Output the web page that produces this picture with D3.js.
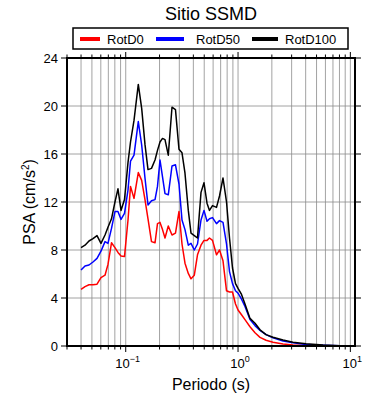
<!DOCTYPE html>
<html>
<head>
<meta charset="utf-8">
<script src="https://cdn.jsdelivr.net/npm/d3@7"></script>
<style>
  body { margin: 0; background: #fff; }
  svg { display: block; font-family: "Liberation Sans", Arial, sans-serif; }
</style>
</head>
<body>
<div id="chart"></div>
<script>
// periods (s) shared by all three curves
const periods = [0.04, 0.0434, 0.0471, 0.0511, 0.0555, 0.0602, 0.0654, 0.0695, 0.0747, 0.0802,
  0.0853, 0.0908, 0.0975, 0.1048, 0.1103, 0.1185, 0.1294, 0.1387, 0.1484, 0.1579,
  0.1696, 0.1823, 0.1918, 0.2019, 0.2126, 0.2237, 0.2393, 0.2582, 0.2773, 0.298,
  0.317, 0.337, 0.3607, 0.3813, 0.408, 0.4355, 0.468, 0.4977, 0.5293, 0.5568,
  0.5924, 0.643, 0.684, 0.7347, 0.7897, 0.8395, 0.8928, 0.9493, 1.0, 1.074,
  1.153, 1.278, 1.416, 1.569, 1.775, 2.048, 2.514, 3.087, 4.03, 5.71, 8.09, 10];

const rotD0 = [4.72, 4.95, 5.1, 5.1, 5.15, 5.7, 5.9, 6.8, 8.6, 8.2,
  7.8, 7.5, 7.45, 10.5, 13.3, 12.3, 14.45, 13.8, 12.2, 10.6,
  8.7, 8.6, 10.2, 10.3, 9.7, 9.0, 10.0, 9.25, 9.4, 11.2,
  8.5, 6.9, 6.05, 5.6, 5.9, 7.6, 8.4, 8.8, 8.8, 9.0,
  8.8, 7.6, 8.0, 7.1, 4.6, 4.5, 4.5, 3.5, 3.0, 2.6,
  2.2, 1.6, 1.1, 0.72, 0.48, 0.32, 0.17, 0.08, 0.04, 0.02, 0.01, 0.0];

const rotD50 = [6.33, 6.67, 6.75, 7.0, 7.3, 7.9, 8.7, 8.55, 9.8, 11.2,
  11.2, 10.55, 11.05, 13.0, 15.4, 15.9, 18.7, 16.75, 14.0, 11.75,
  12.1, 12.2, 13.3, 15.5, 14.1, 12.7, 12.6, 15.0, 15.1, 13.5,
  10.5, 9.7, 8.4, 8.55, 8.0, 8.5, 10.5, 11.3, 10.4, 10.6,
  10.7, 10.2, 10.45, 10.3, 8.5, 6.2, 5.2, 4.6, 4.4, 3.9,
  3.3, 2.2, 1.7, 1.3, 0.95, 0.68, 0.42, 0.26, 0.12, 0.06, 0.02, 0.01];

const rotD100 = [8.2, 8.4, 8.75, 8.95, 9.2, 8.55, 9.25, 9.9, 10.6, 12.0,
  13.1, 11.3, 12.2, 15.3, 17.0, 18.8, 21.8, 19.8, 16.8, 14.7,
  14.8, 15.5, 16.3, 17.0, 17.3, 17.2, 15.9, 19.9, 19.7, 16.4,
  16.1, 14.4, 11.3, 9.4, 9.2, 9.0, 12.8, 13.6, 11.9, 11.3,
  11.7, 11.55, 12.5, 14.0, 12.0, 9.0, 6.5, 5.2, 4.8, 4.3,
  3.5, 2.3, 1.9, 1.35, 0.95, 0.73, 0.5, 0.32, 0.18, 0.08, 0.03, 0.01];

const seriesNames = ["RotD0", "RotD50", "RotD100"];
const seriesColors = ["#ff0000", "#0000ff", "#000000"];
const yTicks = [0, 4, 8, 12, 16, 20, 24];
const xDecades = [0.1, 1, 10];

const series = [rotD0, rotD50, rotD100].map((vals, i) => ({
  name: seriesNames[i], color: seriesColors[i],
  points: periods.map((p, j) => [p, vals[j]])
}));

const W = 390, H = 400;
const margin = { left: 67, right: 35, top: 58, bottom: 54 };

const x = d3.scaleLog().domain([0.03, 11]).range([margin.left, W - margin.right]);
const y = d3.scaleLinear().domain([0, 24]).range([H - margin.bottom, margin.top]);

const svg = d3.select("#chart").append("svg").attr("width", W).attr("height", H);

// minor log positions for grid & ticks
const minor = [];
[0.01, 0.1, 1, 10].forEach((d) => {
  for (let k = 1; k < 10; k++) {
    const v = d * k;
    if (v >= 0.03 && v <= 11) minor.push(v);
  }
});

const grid = svg.append("g").attr("stroke", "#8c8c8c").attr("stroke-width", 0.8);
grid.selectAll("line.v").data(minor).enter().append("line")
  .attr("x1", (d) => x(d)).attr("x2", (d) => x(d))
  .attr("y1", y(0)).attr("y2", y(24));
grid.selectAll("line.h").data(yTicks.slice(1, -1)).enter().append("line")
  .attr("x1", x.range()[0]).attr("x2", x.range()[1])
  .attr("y1", (d) => y(d)).attr("y2", (d) => y(d));

// curves
const line = d3.line().x((d) => x(d[0])).y((d) => y(d[1]));
svg.append("g").selectAll("path").data(series).enter().append("path")
  .attr("d", (d) => line(d.points))
  .attr("fill", "none")
  .attr("stroke", (d) => d.color)
  .attr("stroke-width", 1.5)
  .attr("stroke-linejoin", "round");

// frame
const [x0, x1] = x.range();
const [yb, yt] = y.range();
svg.append("rect")
  .attr("x", x0).attr("y", yt).attr("width", x1 - x0).attr("height", yb - yt)
  .attr("fill", "none").attr("stroke", "#000").attr("stroke-width", 2);

// ticks on all four sides, pointing outward
const isMajor = (d) => xDecades.some((m) => Math.abs(d / m - 1) < 1e-6);
const tk = svg.append("g").attr("stroke", "#000").attr("stroke-width", 1);
tk.selectAll("line.b").data(minor).enter().append("line")
  .attr("x1", (d) => x(d)).attr("x2", (d) => x(d))
  .attr("y1", yb).attr("y2", (d) => yb + (isMajor(d) ? 6 : 3.5));
tk.selectAll("line.t").data(minor).enter().append("line")
  .attr("x1", (d) => x(d)).attr("x2", (d) => x(d))
  .attr("y1", yt).attr("y2", (d) => yt - (isMajor(d) ? 6 : 3.5));
tk.selectAll("line.l").data(yTicks).enter().append("line")
  .attr("x1", x0).attr("x2", x0 - 6)
  .attr("y1", (d) => y(d)).attr("y2", (d) => y(d));
tk.selectAll("line.r").data(yTicks).enter().append("line")
  .attr("x1", x1).attr("x2", x1 + 6)
  .attr("y1", (d) => y(d)).attr("y2", (d) => y(d));

// y tick labels
svg.append("g").selectAll("text").data(yTicks).enter().append("text")
  .attr("x", x0 - 9).attr("y", (d) => y(d)).attr("dy", "0.35em")
  .attr("text-anchor", "end").attr("font-size", 13)
  .text((d) => d);

// x tick labels 10^n
const xl = svg.append("g").selectAll("text").data(xDecades).enter().append("text")
  .attr("x", (d) => x(d) + 2).attr("y", yb + 22)
  .attr("text-anchor", "middle").attr("font-size", 13);
xl.append("tspan").text("10");
xl.append("tspan").attr("dy", -6).attr("font-size", 9)
  .text((d) => (Math.round(Math.log10(d)) < 0 ? "\u2212" : "") + Math.abs(Math.round(Math.log10(d))));

// axis titles
svg.append("text")
  .attr("x", (x0 + x1) / 2).attr("y", yb + 44)
  .attr("text-anchor", "middle").attr("font-size", 16)
  .text("Periodo (s)");

const yt2 = svg.append("text")
  .attr("transform", `translate(35,${(yb + yt) / 2}) rotate(-90)`)
  .attr("text-anchor", "middle").attr("font-size", 16);
yt2.append("tspan").text("PSA (cm/s");
yt2.append("tspan").attr("dy", -6).attr("font-size", 10).text("2");
yt2.append("tspan").attr("dy", 6).text(")");

// title
svg.append("text")
  .attr("x", (x0 + x1) / 2).attr("y", 20)
  .attr("text-anchor", "middle").attr("font-size", 18)
  .text("Sitio SSMD");

// legend
const lg = svg.append("g");
lg.append("rect")
  .attr("x", 73).attr("y", 28).attr("width", 275).attr("height", 21)
  .attr("fill", "#fff").attr("stroke", "#000").attr("stroke-width", 1.5);
const lgX = [80, 156, 252];
const lgLen = [20, 28, 26];
const lgTxt = [27, 40, 33];
const items = lg.selectAll("g.item").data(series).enter().append("g")
  .attr("transform", (d, i) => `translate(${lgX[i]},39)`);
items.append("line")
  .attr("x1", 0).attr("x2", (d, i) => lgLen[i])
  .attr("stroke", (d) => d.color).attr("stroke-width", 4);
items.append("text")
  .attr("x", (d, i) => lgTxt[i]).attr("dy", "0.35em")
  .attr("font-size", 13)
  .text((d) => d.name);
</script>
</body>
</html>
